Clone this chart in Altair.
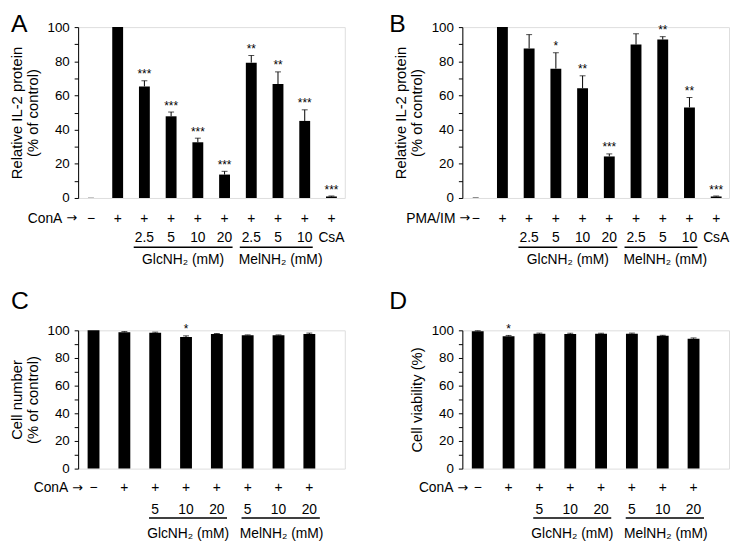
import altair as alt
import pandas as pd

FONT = "Liberation Sans"

# ---------------- data ----------------
# Panel A: IL-2 protein, ConA stimulation
a_idx = list(range(10))
a_vals = [0, 100, 65.3, 47.8, 32.6, 13.7, 79.2, 66.7, 45.1, 0.8]
a_errs = [0.3, 0, 3.3, 2.5, 2.4, 1.9, 4.2, 7.1, 6.5, 0.3]
a_stars = ["", "", "***", "***", "***", "***", "**", "**", "***", "***"]

# Panel B: IL-2 protein, PMA/IM stimulation
b_vals = [0, 100, 87.5, 75.7, 64.2, 24.3, 89.8, 92.7, 53.0, 0.8]
b_errs = [0.3, 0, 8.1, 9.3, 7.3, 1.5, 6.3, 1.7, 5.8, 0.3]
b_stars = ["", "", "", "*", "**", "***", "", "**", "**", "***"]

ab_signs = ["−"] + ["+"] * 9
ab_nums = ["", "", "2.5", "5", "10", "20", "2.5", "5", "10", "CsA"]

# Panel C: cell number
c_idx = list(range(8))
c_vals = [100, 98.6, 98.3, 95.2, 97.4, 96.4, 96.4, 97.4]
c_errs = [0, 0.5, 0.4, 0.8, 0.3, 0.3, 0.3, 0.6]
c_stars = ["", "", "", "*", "", "", "", ""]

# Panel D: cell viability
d_vals = [99.3, 95.7, 97.6, 97.4, 97.6, 97.6, 96.0, 94.0]
d_errs = [0.4, 0.6, 0.4, 0.5, 0.3, 0.4, 0.4, 0.5]
d_stars = ["", "*", "", "", "", "", "", ""]

cd_signs = ["−"] + ["+"] * 7
cd_nums = ["", "", "5", "10", "20", "5", "10", "20"]

group_names = ["GlcNH₂ (mM)", "MelNH₂ (mM)"]
ab_group_start = [1.6, 5.57]
ab_group_end = [5.3, 8.3]
ab_group_mid = [3.45, 7.1]
cd_group_start = [1.8, 4.8]
cd_group_end = [4.33, 7.34]
cd_group_mid = [3.07, 6.1]

TXT = 14


def panel(letter, lx, ly, idx, vals, errs, stars, signs, nums, header, hx, ytitle,
          xdom, width, height, bar_size, gstart, gend, gmid, rows, zero_color):
    df = pd.DataFrame({"i": idx, "v": vals, "e": errs, "star": stars,
                       "sign": signs, "num": nums})
    df["hi"] = df["v"] + df["e"]
    xs = alt.Scale(domain=xdom, nice=False, zero=False, padding=0)
    ys = alt.Scale(domain=[0, 100], nice=False, padding=0)
    yaxis = alt.Axis(
        values=list(range(0, 101, 10)),
        labelExpr="datum.value % 20 == 0 ? datum.label : ''",
        tickSize=4, tickColor="black", tickWidth=1,
        domainColor="black", domainWidth=1,
        labelColor="black", labelFont=FONT, labelFontSize=13.5, labelPadding=5,
        title=ytitle, titleFont=FONT, titleFontSize=15, titleFontWeight="normal",
        titleColor="black", titlePadding=7, titleLineHeight=16, grid=False,
    )
    X = alt.X("i:Q", scale=xs, axis=None)
    base = alt.Chart(df)
    bars = base.mark_bar(size=bar_size, color="black").encode(
        x=X, y=alt.Y("v:Q", scale=ys, axis=yaxis))
    err = base.transform_filter("datum.e > 0 && datum.v > 0").mark_rule(
        color="black", strokeWidth=1).encode(
        x=X, y=alt.Y("v:Q", scale=ys, axis=yaxis), y2="hi:Q")
    caps = base.transform_filter("datum.e > 0").mark_tick(
        orient="horizontal", size=6, thickness=1).encode(
        x=X, y=alt.Y("hi:Q", scale=ys, axis=yaxis),
        color=alt.condition(alt.datum.v == 0, alt.value(zero_color), alt.value("black")))
    star = base.transform_filter("datum.star != ''").mark_text(
        font=FONT, fontSize=12, baseline="alphabetic", dy=-2.5, color="black").encode(
        x=X, y=alt.Y("hi:Q", scale=ys, axis=yaxis), text="star:N")
    sign = base.mark_text(font=FONT, fontSize=TXT, baseline="alphabetic",
                          color="black").encode(
        x=X, y=alt.value(height + rows[0]), text="sign:N")
    num = base.transform_filter("datum.num != ''").mark_text(
        font=FONT, fontSize=TXT, baseline="alphabetic", color="black").encode(
        x=X, y=alt.value(height + rows[1]), text="num:N")
    gdf = pd.DataFrame({"x1": gstart, "x2": gend, "xm": gmid, "name": group_names})
    gline = alt.Chart(gdf).mark_rule(color="black", strokeWidth=1.5).encode(
        x=alt.X("x1:Q", scale=xs, axis=None), x2="x2:Q",
        y=alt.value(height + rows[2]))
    gname = alt.Chart(gdf).mark_text(font=FONT, fontSize=TXT, baseline="alphabetic",
                                     color="black").encode(
        x=alt.X("xm:Q", scale=xs, axis=None), y=alt.value(height + rows[3]),
        text="name:N")
    head = alt.Chart(pd.DataFrame({"t": [header]})).mark_text(
        font=FONT, fontSize=TXT, align="right", baseline="alphabetic",
        color="black").encode(x=alt.value(hx - 15), y=alt.value(height + rows[0]),
                              text="t:N")
    arrow = alt.Chart(pd.DataFrame({"t": ["→"]})).mark_text(
        font="DejaVu Sans", fontSize=13, align="right", baseline="alphabetic",
        color="black").encode(x=alt.value(hx), y=alt.value(height + rows[0] - 0.5),
                              text="t:N")
    let = alt.Chart(pd.DataFrame({"t": [letter]})).mark_text(
        font=FONT, fontSize=25, align="left", baseline="top", color="black").encode(
        x=alt.value(lx), y=alt.value(ly), text="t:N")
    return alt.layer(bars, err, caps, star, sign, num, gline, gname, head, arrow,
                     let).properties(width=width, height=height)


pA = panel("A", -68, -15, a_idx, a_vals, a_errs, a_stars, ab_signs, ab_nums, "ConA", -1,
           ["Relative IL-2 protein", "(% of control)"], [-0.48, 9.5], 270, 173, 11,
           ab_group_start, ab_group_end, ab_group_mid, [25, 45, 50, 67], "#aaaaaa")
pB = panel("B", -74, -15, a_idx, b_vals, b_errs, b_stars, ab_signs, ab_nums, "PMA/IM", 8,
           ["Relative IL-2 protein", "(% of control)"], [-0.5, 9.48], 270, 173, 11,
           ab_group_start, ab_group_end, ab_group_mid, [25, 45, 50, 67], "#555555")
pC = panel("C", -68, -42, c_idx, c_vals, c_errs, c_stars, cd_signs, cd_nums, "ConA", 5,
           ["Cell number", "(% of control)"], [-0.5, 8.15], 270, 140, 12,
           cd_group_start, cd_group_end, cd_group_mid, [24, 46, 50, 70], "#555555")
pD = panel("D", -74, -42, c_idx, d_vals, d_errs, d_stars, cd_signs, cd_nums, "ConA", 6,
           "Cell viability (%)", [-0.5, 8.15], 270, 140, 12,
           cd_group_start, cd_group_end, cd_group_mid, [24, 46, 50, 70], "#555555")

chart = alt.concat(pA, pB, pC, pD, columns=2,
                   spacing={"row": 134, "column": 119}, bounds="flush").properties(
    padding=0).configure_view(strokeWidth=0).configure(font=FONT)

chart.save("out.html", embed_options={"renderer": "svg", "actions": False})
